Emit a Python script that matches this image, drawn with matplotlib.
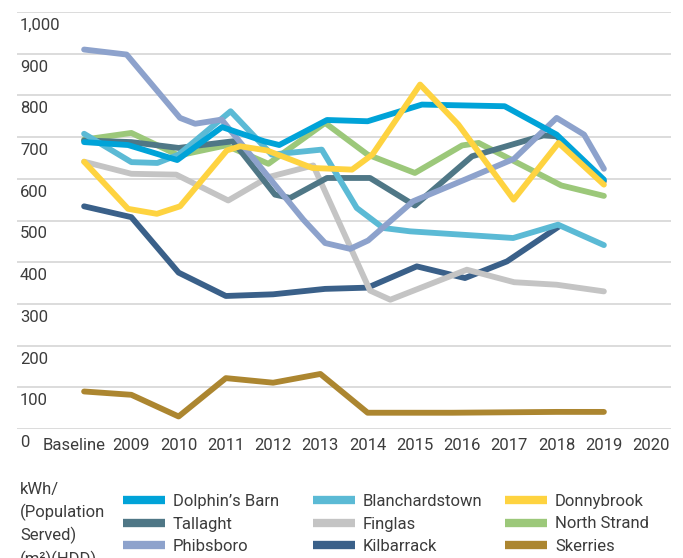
import matplotlib
matplotlib.use('Agg')
import matplotlib.pyplot as plt
from matplotlib.transforms import ScaledTranslation

plt.rcParams['font.family'] = ['Roboto', 'DejaVu Sans']

# x tick categories (Baseline sits at 2008)
tick_years = [2008, 2009, 2010, 2011, 2012, 2013, 2014, 2015, 2016, 2017, 2018, 2019, 2020]
tick_labels = ['Baseline', '2009', '2010', '2011', '2012', '2013', '2014',
               '2015', '2016', '2017', '2018', '2019', '2020']

# kWh / (population served)(m2)(HDD) per station
dolphins_x = [2008, 2008.93, 2009.97, 2010.92, 2011.81, 2012.13, 2013.14, 2014.0, 2015.15, 2016.9, 2018.0, 2019]
dolphins_y = [688, 681, 645, 724, 690, 681, 741, 738, 778, 774, 706, 598]

blanch_x = [2008, 2009.0, 2009.55, 2010.0, 2011.1, 2011.97, 2013.03, 2013.77, 2014.33, 2014.9, 2017.08, 2018.03, 2019]
blanch_y = [708, 640, 638, 658, 762, 658, 670, 530, 482, 474, 458, 490, 441]

donny_x = [2008, 2008.93, 2009.54, 2010.03, 2011.02, 2011.3, 2011.87, 2012.83, 2013.67, 2014.1, 2015.11, 2015.92, 2017.09, 2018.04, 2019]
donny_y = [641, 528, 516, 534, 668, 678, 668, 626, 622, 658, 826, 730, 550, 686, 586]

tallaght_x = [2008, 2009, 2010, 2011.15, 2012.04, 2012.36, 2013.14, 2014.05, 2015.0, 2016.21, 2017.72, 2018.0, 2019]
tallaght_y = [692, 688, 674, 690, 562, 554, 602, 602, 536, 654, 704, 702, 594]

finglas_x = [2008, 2009, 2009.95, 2011.05, 2011.9, 2012.85, 2014.05, 2014.48, 2016.1, 2017.1, 2018.0, 2019]
finglas_y = [641, 612, 610, 548, 604, 632, 332, 310, 382, 352, 346, 330]

north_x = [2008, 2009, 2010, 2011, 2011.9, 2013.1, 2014.0, 2015.0, 2016.0, 2016.35, 2018.1, 2019]
north_y = [694, 710, 656, 680, 636, 734, 658, 614, 680, 686, 584, 559]

phibs_x = [2008, 2008.9, 2010.03, 2010.35, 2010.91, 2012.64, 2013.1, 2013.63, 2014.01, 2014.96, 2016.1, 2017.1, 2018.0, 2018.58, 2019]
phibs_y = [910, 898, 746, 732, 742, 502, 446, 432, 452, 546, 600, 648, 746, 706, 624]

kilb_x = [2008, 2009, 2010, 2011, 2012, 2013.1, 2014, 2015.04, 2016.06, 2016.95, 2018.04]
kilb_y = [534, 508, 375, 319, 323, 336, 339, 390, 362, 402, 485]

sker_x = [2008, 2009, 2010, 2011, 2012, 2013, 2014, 2015.8, 2018, 2019]
sker_y = [90, 82, 30, 122, 111, 132, 39, 39, 41, 41]

# name, x, y, colour, zorder
series = [
    ("Dolphin\u2019s Barn", dolphins_x, dolphins_y, '#00A3D8', 9),
    ("Blanchardstown", blanch_x, blanch_y, '#5BBAD5', 7),
    ("Donnybrook", donny_x, donny_y, '#FED340', 10),
    ("Tallaght", tallaght_x, tallaght_y, '#4F7786', 5),
    ("Finglas", finglas_x, finglas_y, '#C4C4C4', 3),
    ("North Strand", north_x, north_y, '#9CC87A', 4),
    ("Phibsboro", phibs_x, phibs_y, '#8DA2CC', 8),
    ("Kilbarrack", kilb_x, kilb_y, '#3A6089', 2),
    ("Skerries", sker_x, sker_y, '#AC8630', 1),
]

text_col = '#3C3C3C'

fig = plt.figure(figsize=(6.83, 5.58), dpi=100)
ax = fig.add_axes([17 / 683, 1 - 429 / 558, (671 - 17) / 683, (429 - 12) / 558])

handles = {}
for name, xs, ys, col, z in series:
    ln, = ax.plot(xs, ys, color=col, lw=4.2, solid_joinstyle='round',
                  solid_capstyle='round', label=name, zorder=z)
    handles[name] = ln

ax.set_xlim(2006.58, 2020.42)
ax.set_ylim(0, 1000)

yticks = list(range(0, 1001, 100))
ax.set_yticks(yticks)
ax.set_yticklabels([])
ax.yaxis.grid(True, color='#D9D9D9', lw=1.3)
ax.set_axisbelow(True)
for s in ax.spines.values():
    s.set_visible(False)
ax.tick_params(length=0)

for v in yticks:
    ax.annotate(f'{v:,}', xy=(0, v), xycoords=('axes fraction', 'data'),
                xytext=(3, -6), textcoords='offset pixels', ha='left', va='top',
                fontsize=12, color=text_col)

ax.set_xticks(tick_years)
ax.set_xticklabels(tick_labels, fontsize=12, color=text_col)
ax.tick_params(axis='x', pad=6.5)
first = ax.get_xticklabels()[0]
first.set_transform(first.get_transform() + ScaledTranslation(-0.1, 0, fig.dpi_scale_trans))

# legend: three fixed-width columns like the source
cols = [["Dolphin\u2019s Barn", "Tallaght", "Phibsboro"],
        ["Blanchardstown", "Finglas", "Kilbarrack"],
        ["Donnybrook", "North Strand", "Skerries"]]
col_left = [123, 313, 505]
for names, xl in zip(cols, col_left):
    leg = fig.legend([handles[n] for n in names], names, loc='upper left',
                     bbox_to_anchor=(xl / 683, 1 - 494 / 558), frameon=False,
                     fontsize=12, borderpad=0, borderaxespad=0, handlelength=2.5,
                     handletextpad=0.5, labelspacing=0.45)
    for t in leg.get_texts():
        t.set_color(text_col)
    for l in leg.get_lines():
        l.set_linewidth(6)
        l.set_solid_capstyle('butt')

fig.text(20 / 683, 1 - 482 / 558, 'kWh/\n(Population\nServed)\n(m\u00b2)(HDD)',
         ha='left', va='top', fontsize=12, color=text_col, linespacing=1.47)

fig.savefig('out.png', dpi=100)
